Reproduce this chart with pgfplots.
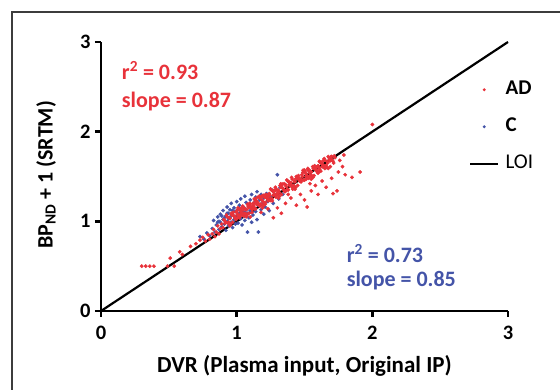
\documentclass[border=0pt]{standalone}
\usepackage{fontspec}
\setmainfont{Carlito}
\usepackage{pgfplots}
\pgfplotsset{compat=1.18}
\definecolor{redc}{RGB}{232,50,58}
\definecolor{bluec}{RGB}{68,84,168}
\definecolor{framec}{RGB}{60,60,60}
\begin{document}
\begin{tikzpicture}
\useasboundingbox (-101pt,-79pt) rectangle (459pt,311pt);
\draw[framec, line width=2pt] (-88.5pt,-90pt) -- (-88.5pt,299pt) -- (470pt,299pt);
\begin{axis}[
  at={(0pt,0pt)}, anchor=south west, scale only axis,
  width=407pt, height=269pt,
  xmin=0, xmax=3, ymin=0, ymax=3,
  axis lines=left, axis line style={-, line width=2.8pt, black},
  xtick={0,1,2,3}, ytick={0,1,2,3},
  tick align=outside, major tick length=6pt,
  tick style={line width=2.6pt, black},
  /pgf/number format/assume math mode=true,
  tick label style={font=\fontsize{20.5}{20.5}\selectfont\bfseries},
  xticklabel style={yshift=-6pt},
  yticklabel style={xshift=-1pt},
  xlabel={DVR (Plasma input, Original IP)},
  xlabel style={font=\fontsize{23}{24}\selectfont\bfseries, at={(axis description cs:0.5,-0.205)}, anchor=center},
  ylabel={BP\textsubscript{ND} + 1 (SRTM)},
  ylabel style={font=\fontsize{22}{24}\selectfont\bfseries, at={(axis description cs:-0.135,0.506)}, anchor=center},
  legend style={draw=none, fill=none, at={(axis cs:2.712,2.57)}, anchor=north west,
    font=\fontsize{21}{21}\selectfont, row sep=19pt, column sep=6pt, inner sep=0pt,
    nodes={inner sep=0pt, text height=14pt, text depth=4pt}},
  legend cell align=left,
  clip=false,
]
\addlegendimage{legend image code/.code={\path[draw=none, fill=none] (0pt,-1pt) rectangle (28pt,1pt); \fill[redc, draw=none] (14pt,0pt) circle (1.6pt);}}
\addlegendentry{\bfseries AD}
\addlegendimage{legend image code/.code={\path[draw=none, fill=none] (0pt,-1pt) rectangle (28pt,1pt); \fill[bluec, draw=none] (14pt,0pt) circle (1.6pt);}}
\addlegendentry{\bfseries C}
\addlegendimage{legend image code/.code={\draw[black, line width=2.4pt] (0pt,0pt) -- (28pt,0pt);}}
\addlegendentry{LOI}

\addplot[black, line width=2.2pt, forget plot] coordinates {(0,0) (3,3)};

\addplot[only marks, mark=*, mark size=1.7pt, bluec, forget plot] table[row sep=\\] {
x y\\
0.73 0.83\\ 0.76 0.80\\ 0.78 0.87\\ 0.80 0.84\\ 0.82 0.92\\ 0.83 1.01\\ 0.84 0.88\\ 0.85 0.96\\
0.86 1.05\\ 0.87 0.91\\ 0.88 0.99\\ 0.88 1.08\\ 0.89 0.94\\ 0.90 1.02\\ 0.90 1.12\\ 0.91 0.97\\
0.92 1.06\\ 0.92 0.90\\ 0.93 1.16\\ 0.93 1.00\\ 0.94 1.09\\ 0.94 0.95\\ 0.95 1.04\\ 0.95 1.13\\
0.96 0.99\\ 0.96 1.20\\ 0.97 1.08\\ 0.97 0.93\\ 0.98 1.02\\ 0.98 1.15\\ 0.99 1.11\\ 0.99 0.97\\
1.00 1.06\\ 1.00 1.22\\ 1.01 0.98\\ 1.01 1.13\\ 1.02 1.09\\ 1.02 1.18\\ 1.03 1.03\\ 1.03 1.25\\
1.04 1.11\\ 1.04 0.96\\ 1.05 1.16\\ 1.05 1.06\\ 1.06 1.28\\ 1.06 1.01\\ 1.07 1.13\\ 1.07 1.21\\
1.08 0.88\\ 1.08 1.09\\ 1.09 1.18\\ 1.09 1.04\\ 1.10 1.24\\ 1.10 1.12\\ 1.11 0.99\\ 1.11 1.30\\
1.12 1.16\\ 1.12 1.07\\ 1.13 1.21\\ 1.14 1.11\\ 1.14 1.27\\ 1.15 1.33\\ 1.15 1.02\\ 1.16 0.88\\
1.16 1.18\\ 1.17 1.24\\ 1.18 1.13\\ 1.18 1.30\\ 1.19 1.20\\ 1.20 1.26\\ 1.20 1.08\\ 1.21 1.16\\
1.22 1.31\\ 1.23 1.22\\ 1.24 1.12\\ 1.25 1.27\\ 1.26 1.35\\ 1.27 1.20\\ 1.28 1.30\\ 1.30 1.52\\
1.31 1.25\\ 1.32 1.38\\ 1.34 1.30\\ 0.91 1.04\\ 0.96 1.07\\ 1.01 1.05\\ 1.06 1.10\\ 1.13 1.15\\
0.87 1.00\\ 0.99 1.04\\ 0.86 0.99\\ 0.89 1.06\\ 0.93 1.09\\ 0.97 1.12\\ 1.02 1.14\\ 0.94 1.03\\
};

\addplot[only marks, mark=*, mark size=1.7pt, redc, forget plot] table[row sep=\\] {
x y\\
0.30 0.50\\ 0.33 0.50\\ 0.36 0.50\\ 0.39 0.50\\ 0.49 0.50\\ 0.54 0.50\\ 0.51 0.59\\ 0.58 0.66\\
0.60 0.63\\ 0.66 0.72\\ 0.70 0.75\\ 0.73 0.79\\ 0.75 0.82\\ 0.77 0.78\\ 0.79 0.85\\ 0.80 0.80\\
0.82 0.86\\ 0.83 0.91\\ 0.84 0.83\\ 0.85 0.88\\ 0.86 0.95\\ 0.87 0.86\\ 0.88 0.92\\ 0.89 0.97\\
0.900 0.93\\ 0.905 1.02\\ 0.910 1.01\\ 0.915 0.98\\ 0.920 0.99\\ 0.925 1.07\\ 0.930 1.05\\ 0.935 0.98\\
0.940 0.99\\ 0.945 1.04\\ 0.950 1.03\\ 0.955 0.97\\ 0.960 1.09\\ 0.965 1.07\\ 0.970 0.99\\ 0.975 1.10\\
0.980 1.06\\ 0.985 1.05\\ 0.990 1.04\\ 0.995 1.02\\ 1.000 1.10\\ 1.005 1.08\\ 1.010 1.04\\ 1.015 1.14\\
1.020 1.04\\ 1.025 1.13\\ 1.030 1.11\\ 1.035 1.08\\ 1.040 1.09\\ 1.045 1.17\\ 1.050 1.15\\ 1.055 1.08\\
1.060 1.09\\ 1.065 1.14\\ 1.070 1.13\\ 1.075 1.07\\ 1.080 1.19\\ 1.085 1.17\\ 1.090 1.09\\ 1.095 1.20\\
1.100 1.17\\ 1.105 1.16\\ 1.110 1.15\\ 1.115 1.13\\ 1.120 1.20\\ 1.125 1.18\\ 1.130 1.14\\ 1.135 1.24\\
1.140 1.14\\ 1.145 1.23\\ 1.150 1.22\\ 1.155 1.19\\ 1.160 1.20\\ 1.165 1.28\\ 1.170 1.26\\ 1.175 1.19\\
1.180 1.19\\ 1.185 1.24\\ 1.190 1.23\\ 1.195 1.17\\ 1.200 1.29\\ 1.205 1.27\\ 1.210 1.19\\ 1.215 1.30\\
1.220 1.27\\ 1.225 1.26\\ 1.230 1.25\\ 1.235 1.23\\ 1.240 1.31\\ 1.245 1.29\\ 1.250 1.25\\ 1.255 1.35\\
1.260 1.25\\ 1.265 1.34\\ 1.270 1.33\\ 1.275 1.30\\ 1.280 1.30\\ 1.285 1.38\\ 1.290 1.36\\ 1.295 1.29\\
1.300 1.30\\ 1.305 1.35\\ 1.310 1.34\\ 1.315 1.28\\ 1.320 1.40\\ 1.325 1.38\\ 1.330 1.30\\ 1.335 1.41\\
1.340 1.37\\ 1.345 1.36\\ 1.350 1.35\\ 1.355 1.33\\ 1.360 1.41\\ 1.365 1.39\\ 1.370 1.35\\ 1.375 1.45\\
1.380 1.35\\ 1.385 1.44\\ 1.390 1.43\\ 1.395 1.40\\ 1.400 1.41\\ 1.405 1.49\\ 1.410 1.47\\ 1.415 1.40\\
1.420 1.40\\ 1.425 1.45\\ 1.430 1.44\\ 1.435 1.38\\ 1.440 1.50\\ 1.445 1.48\\ 1.450 1.40\\ 1.455 1.51\\
1.460 1.48\\ 1.465 1.47\\ 1.470 1.46\\ 1.475 1.44\\ 1.480 1.52\\ 1.485 1.50\\ 1.490 1.46\\ 1.495 1.56\\
1.500 1.46\\ 1.505 1.55\\ 1.510 1.53\\ 1.515 1.50\\ 1.520 1.51\\ 1.525 1.59\\ 1.530 1.57\\ 1.535 1.50\\
1.540 1.51\\ 1.545 1.56\\ 1.550 1.55\\ 1.555 1.49\\ 1.560 1.61\\ 1.565 1.59\\ 1.570 1.51\\ 1.575 1.62\\
1.580 1.59\\ 1.585 1.58\\ 1.590 1.57\\ 1.595 1.55\\ 1.600 1.62\\ 1.605 1.60\\ 1.610 1.56\\ 1.615 1.66\\
1.620 1.56\\ 1.625 1.65\\ 1.630 1.64\\ 1.635 1.61\\ 1.640 1.62\\ 1.645 1.70\\ 1.650 1.68\\ 1.655 1.61\\
1.660 1.62\\ 1.665 1.67\\ 1.670 1.65\\ 1.675 1.59\\ 1.680 1.71\\ 1.685 1.69\\ 1.690 1.61\\ 1.695 1.72\\
1.700 1.69\\ 1.705 1.68\\ 1.710 1.67\\ 1.715 1.65\\ 1.720 1.73\\ 1.725 1.71\\
0.95 0.95\\ 0.97 1.07\\ 0.99 1.03\\ 1.01 1.15\\ 1.03 1.08\\ 1.05 1.06\\ 1.07 1.05\\ 1.09 1.17\\
1.11 1.14\\ 1.13 1.25\\ 1.15 1.19\\ 1.17 1.17\\ 1.19 1.15\\ 1.21 1.27\\ 1.23 1.24\\ 1.25 1.36\\
1.27 1.29\\ 1.29 1.27\\ 1.31 1.26\\ 1.33 1.38\\ 1.35 1.34\\ 1.37 1.46\\ 1.39 1.40\\ 1.41 1.38\\
1.43 1.36\\ 1.45 1.48\\ 1.47 1.45\\ 1.49 1.57\\ 1.51 1.50\\ 1.53 1.48\\ 1.55 1.47\\ 1.57 1.59\\
1.59 1.56\\ 1.61 1.67\\ 1.63 1.61\\ 1.65 1.59\\
1.000 1.115\\ 1.025 1.057\\ 1.050 1.129\\ 1.075 1.080\\ 1.100 1.192\\ 1.125 1.164\\ 1.150 1.266\\
1.175 1.267\\ 1.200 1.209\\ 1.225 1.281\\ 1.250 1.233\\ 1.275 1.344\\ 1.300 1.316\\ 1.325 1.418\\
1.350 1.420\\ 1.375 1.361\\ 1.400 1.433\\ 1.425 1.385\\ 1.450 1.497\\ 1.475 1.468\\ 1.500 1.570\\
1.525 1.572\\ 1.550 1.514\\ 1.575 1.585\\ 1.600 1.537\\ 1.625 1.649\\ 1.650 1.621\\ 1.675 1.722\\
1.700 1.724\\
1.0125 1.061\\ 1.0375 1.153\\ 1.0625 1.079\\ 1.0875 1.151\\ 1.1125 1.098\\ 1.1375 1.215\\
1.1625 1.191\\ 1.1875 1.283\\ 1.2125 1.210\\ 1.2375 1.282\\ 1.2625 1.228\\ 1.2875 1.345\\
1.3125 1.322\\ 1.3375 1.414\\ 1.3625 1.340\\ 1.3875 1.412\\ 1.4125 1.359\\ 1.4375 1.476\\
1.4625 1.452\\ 1.4875 1.544\\ 1.5125 1.471\\ 1.5375 1.543\\ 1.5625 1.489\\ 1.5875 1.606\\
1.6125 1.583\\ 1.6375 1.675\\ 1.6625 1.601\\ 1.6875 1.673\\
1.27 1.04\\ 1.33 1.09\\ 1.30 1.15\\ 1.36 1.20\\ 1.40 1.26\\ 1.44 1.18\\ 1.47 1.30\\ 1.52 1.16\\
1.50 1.24\\ 1.55 1.34\\ 1.58 1.40\\ 1.60 1.30\\ 1.63 1.45\\ 1.66 1.38\\ 1.70 1.48\\ 1.71 1.31\\
1.74 1.34\\ 1.75 1.55\\ 1.76 1.68\\ 1.78 1.61\\ 1.79 1.74\\ 1.80 1.52\\ 1.85 1.49\\ 1.91 1.55\\
2.00 2.08\\ 1.18 1.10\\ 1.23 1.14\\ 1.10 1.05\\ 1.38 1.30\\ 1.54 1.42\\
};

\node[anchor=base west, inner sep=0pt, text=redc, font=\fontsize{22}{22}\selectfont\bfseries] at (axis cs:0.153,2.586) {r\textsuperscript{2} = 0.93};
\node[anchor=base west, inner sep=0pt, text=redc, font=\fontsize{22}{22}\selectfont\bfseries] at (axis cs:0.153,2.274) {slope = 0.87};
\node[anchor=base west, inner sep=0pt, text=bluec, font=\fontsize{22}{22}\selectfont\bfseries] at (axis cs:1.81,0.546) {r\textsuperscript{2} = 0.73};
\node[anchor=base west, inner sep=0pt, text=bluec, font=\fontsize{22}{22}\selectfont\bfseries] at (axis cs:1.81,0.268) {slope = 0.85};
\end{axis}
\end{tikzpicture}
\end{document}
